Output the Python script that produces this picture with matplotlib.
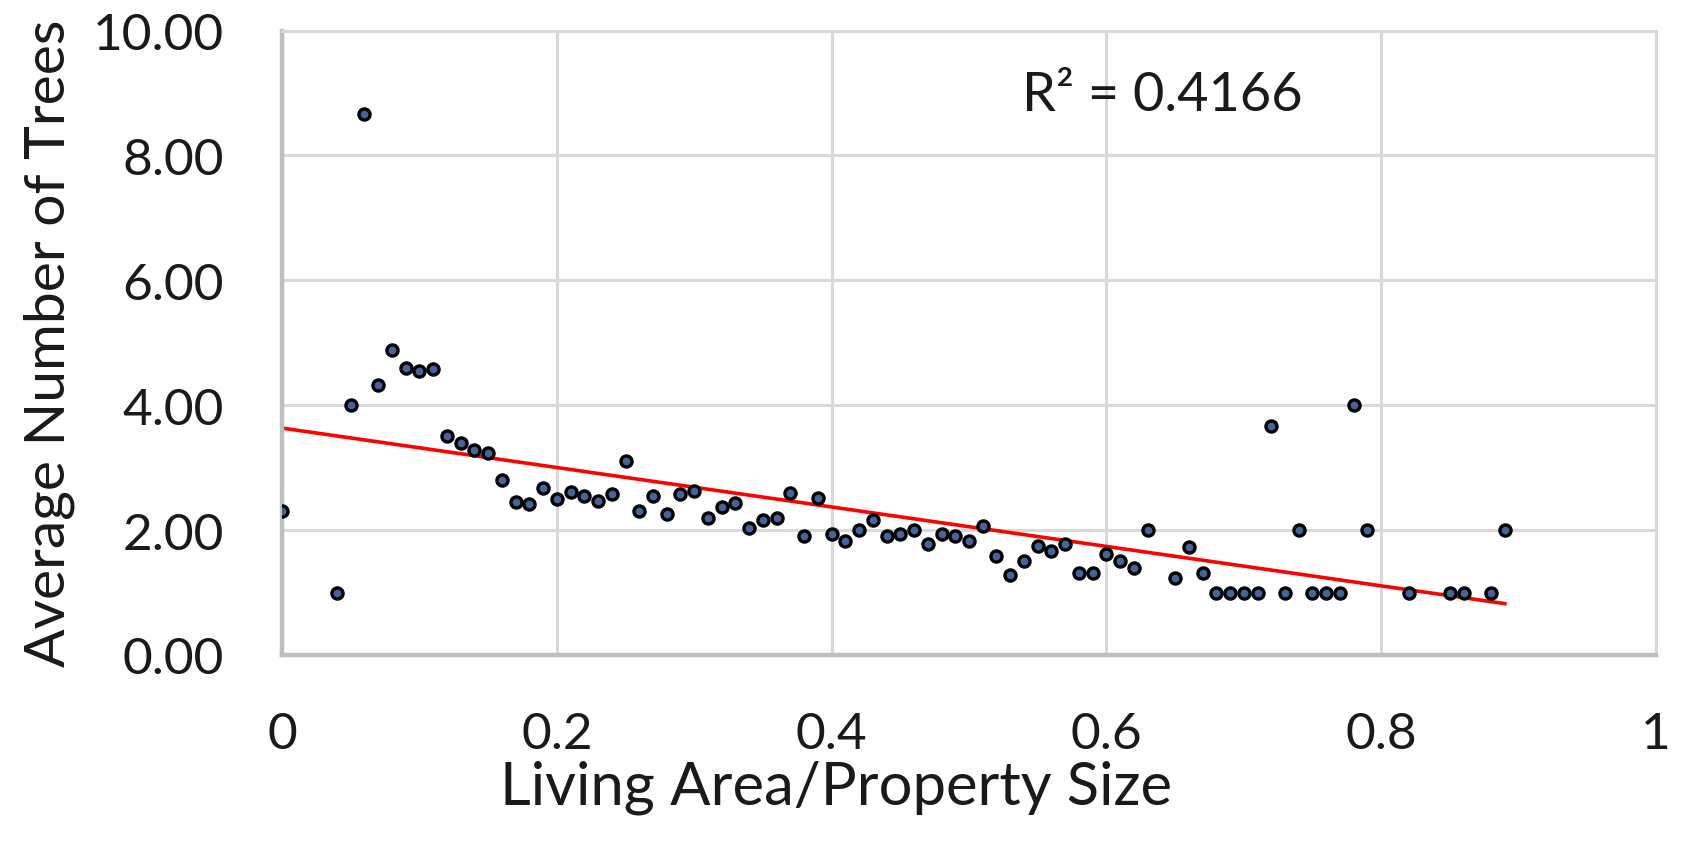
"""Scatter of average tree count against living area share of the property."""

import matplotlib.pyplot as plt
import numpy as np

# Living area / property size (binned) and the average number of trees per bin
ratio = [
    0.00, 0.04, 0.05, 0.06, 0.07, 0.08, 0.09, 0.10, 0.11, 0.12,
    0.13, 0.14, 0.15, 0.16, 0.17, 0.18, 0.19, 0.20, 0.21, 0.22,
    0.23, 0.24, 0.25, 0.26, 0.27, 0.28, 0.29, 0.30, 0.31, 0.32,
    0.33, 0.34, 0.35, 0.36, 0.37, 0.38, 0.39, 0.40, 0.41, 0.42,
    0.43, 0.44, 0.45, 0.46, 0.47, 0.48, 0.49, 0.50, 0.51, 0.52,
    0.53, 0.54, 0.55, 0.56, 0.57, 0.58, 0.59, 0.60, 0.61, 0.62,
    0.63, 0.65, 0.66, 0.67, 0.68, 0.69, 0.70, 0.71, 0.72, 0.73,
    0.74, 0.75, 0.76, 0.77, 0.78, 0.79, 0.82, 0.85, 0.86, 0.88,
    0.89,
]
avg_trees = [
    2.30, 1.00, 4.00, 8.67, 4.33, 4.89, 4.60, 4.54, 4.58, 3.51,
    3.39, 3.28, 3.24, 2.80, 2.45, 2.42, 2.68, 2.49, 2.61, 2.54,
    2.46, 2.58, 3.11, 2.30, 2.54, 2.26, 2.58, 2.62, 2.19, 2.37,
    2.44, 2.04, 2.16, 2.20, 2.60, 1.90, 2.52, 1.94, 1.82, 2.00,
    2.16, 1.90, 1.94, 2.00, 1.78, 1.94, 1.90, 1.82, 2.06, 1.59,
    1.28, 1.50, 1.75, 1.67, 1.78, 1.32, 1.32, 1.62, 1.50, 1.40,
    2.00, 1.24, 1.73, 1.32, 1.00, 1.00, 1.00, 1.00, 3.67, 1.00,
    2.00, 1.00, 1.00, 1.00, 4.00, 2.00, 1.00, 1.00, 1.00, 1.00,
    2.00,
]
r_squared_label = "R² = 0.4166"

x_ticks = [0, 0.2, 0.4, 0.6, 0.8, 1]
x_tick_labels = ["0", "0.2", "0.4", "0.6", "0.8", "1"]
y_ticks = [0, 2, 4, 6, 8, 10]
y_tick_labels = [f"{v:.2f}" for v in y_ticks]

GRID = "#d9d9d9"
AXIS = "#bfbfbf"
TEXT = "#1a1a1a"

plt.rcParams["font.family"] = ["Lato", "DejaVu Sans"]

fig = plt.figure(figsize=(16.92, 8.45), dpi=100)
ax = fig.add_axes([0.1667, 0.2237, 0.8120, 0.7390])

x = np.array(ratio)
y = np.array(avg_trees)

# linear trendline over the range of the data
slope, intercept = np.polyfit(x, y, 1)
fit_x = np.array([x.min(), x.max()])
ax.plot(fit_x, intercept + slope * fit_x, color="#ff0000", lw=2.6, zorder=2)

ax.scatter(x, y, s=64, facecolor="#44659c", edgecolor="black", linewidths=2.4, zorder=3)

ax.set_xlim(0, 1)
ax.set_ylim(0, 10)
ax.set_xticks(x_ticks)
ax.set_xticklabels(x_tick_labels)
ax.set_yticks(y_ticks)
ax.set_yticklabels(y_tick_labels)
ax.grid(True, color=GRID, lw=2.2, zorder=0)
ax.set_axisbelow(True)

for side in ("top", "right"):
    ax.spines[side].set_color(GRID)
    ax.spines[side].set_linewidth(2.2)
for side in ("left", "bottom"):
    ax.spines[side].set_color(AXIS)
    ax.spines[side].set_linewidth(3.2)

ax.tick_params(length=0, labelsize=37, colors=TEXT)
ax.tick_params(axis="y", pad=42)
ax.tick_params(axis="x", pad=40)

ax.set_xlabel("Living Area/Property Size", fontsize=43, color=TEXT,
              labelpad=2, x=0.403)
ax.set_ylabel("Average Number of Trees", fontsize=41, color=TEXT, labelpad=13)

ax.text(0.641, 0.898, r_squared_label, transform=ax.transAxes, ha="center",
        va="center", fontsize=39, color=TEXT)

fig.savefig("out.png", dpi=100)
